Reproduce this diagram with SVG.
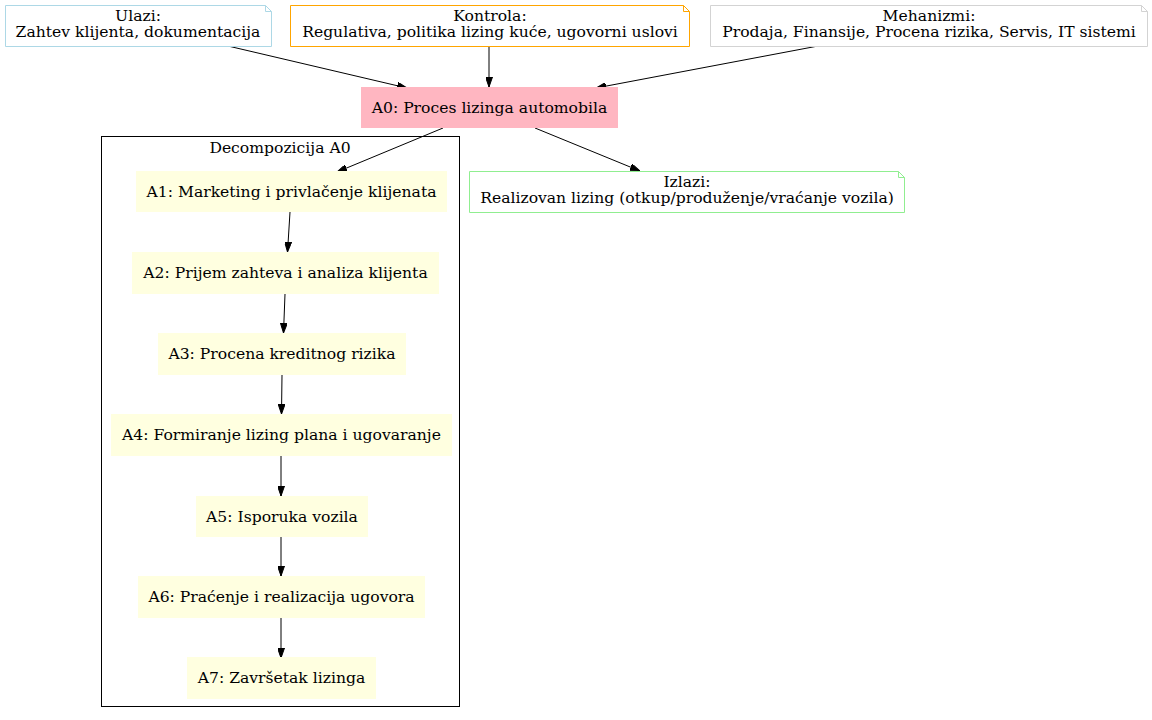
<svg xmlns="http://www.w3.org/2000/svg" width="1152" height="720" viewBox="0 0 1152 720">
<style>
text{font-family:"DejaVu Serif","Liberation Serif",serif;font-size:15.6px;fill:#000;text-anchor:middle}
.note{fill:#fff;stroke-width:1}
.fold{fill:none;stroke-width:1}
.act{fill:#ffffe0;stroke:#ffffe0}
.edge{stroke:#000;stroke-width:1;fill:none;marker-end:url(#ah)}
</style>
<defs>
<marker id="ah" markerUnits="userSpaceOnUse" markerWidth="10" markerHeight="7" refX="10" refY="3.5" orient="auto">
<path d="M0,0 L10,3.5 L0,7 z" fill="#000" stroke="#000"/>
</marker>
</defs>
<rect width="1152" height="720" fill="#fff"/>
<g id="cluster_A0">
<rect x="101.5" y="136.5" width="358" height="570" fill="none" stroke="#000"/>
<text x="280" y="153">Decompozicija A0</text>
</g>
<g id="connectors">
<line class="edge" x1="228" y1="46" x2="407" y2="88"/>
<line class="edge" x1="489" y1="46" x2="489" y2="87"/>
<line class="edge" x1="818" y1="46" x2="596" y2="88"/>
<line class="edge" x1="443" y1="128" x2="337" y2="172"/>
<line class="edge" x1="535" y1="128" x2="640" y2="171"/>
<line class="edge" x1="290" y1="212" x2="287.5" y2="252"/>
<line class="edge" x1="285" y1="294" x2="283.5" y2="333"/>
<line class="edge" x1="282" y1="375" x2="281.5" y2="414"/>
<line class="edge" x1="281" y1="456" x2="281" y2="496"/>
<line class="edge" x1="281" y1="537" x2="281" y2="576"/>
<line class="edge" x1="281" y1="617" x2="281" y2="658"/>
</g>
<g id="ulazi">
<path class="note" stroke="#add8e6" d="M5.5,5.5 H265.5 L271.5,11.5 V46.5 H5.5 Z"/>
<path class="fold" stroke="#add8e6" d="M265.5,5.5 V11.5 H271.5"/>
<text x="138" y="21">Ulazi:</text>
<text x="138" y="37">Zahtev klijenta, dokumentacija</text>
</g>
<g id="kontrola">
<path class="note" stroke="#ffa500" d="M290.5,5.5 H683.5 L689.5,11.5 V46.5 H290.5 Z"/>
<path class="fold" stroke="#ffa500" d="M683.5,5.5 V11.5 H689.5"/>
<text x="490" y="21">Kontrola:</text>
<text x="490" y="37">Regulativa, politika lizing kuće, ugovorni uslovi</text>
</g>
<g id="mehanizmi">
<path class="note" stroke="#d3d3d3" d="M710.5,5.5 H1141.5 L1147.5,11.5 V46.5 H710.5 Z"/>
<path class="fold" stroke="#d3d3d3" d="M1141.5,5.5 V11.5 H1147.5"/>
<text x="929" y="21">Mehanizmi:</text>
<text x="929" y="37">Prodaja, Finansije, Procena rizika, Servis, IT sistemi</text>
</g>
<g id="A0">
<rect x="361.5" y="87.5" width="256" height="40" fill="#ffb6c1" stroke="#ffb6c1"/>
<text x="489.5" y="112.5">A0: Proces lizinga automobila</text>
</g>
<g id="izlazi">
<path class="note" stroke="#90ee90" d="M469.5,171.5 H898.5 L904.5,177.5 V212.5 H469.5 Z"/>
<path class="fold" stroke="#90ee90" d="M898.5,171.5 V177.5 H904.5"/>
<text x="687" y="187">Izlazi:</text>
<text x="687" y="203">Realizovan lizing (otkup/produženje/vraćanje vozila)</text>
</g>
<g id="A1">
<rect class="act" x="136.5" y="171.5" width="310" height="40"/>
<text x="291.5" y="196.5">A1: Marketing i privlačenje klijenata</text>
</g>
<g id="A2">
<rect class="act" x="132.5" y="252.5" width="306" height="41"/>
<text x="285.5" y="278">A2: Prijem zahteva i analiza klijenta</text>
</g>
<g id="A3">
<rect class="act" x="158.5" y="333.5" width="247" height="41"/>
<text x="282" y="359">A3: Procena kreditnog rizika</text>
</g>
<g id="A4">
<rect class="act" x="111.5" y="414.5" width="340" height="41"/>
<text x="281.5" y="440">A4: Formiranje lizing plana i ugovaranje</text>
</g>
<g id="A5">
<rect class="act" x="196.5" y="496.5" width="171" height="40"/>
<text x="282" y="521.5">A5: Isporuka vozila</text>
</g>
<g id="A6">
<rect class="act" x="138.5" y="576.5" width="286" height="41"/>
<text x="281.5" y="602">A6: Praćenje i realizacija ugovora</text>
</g>
<g id="A7">
<rect class="act" x="187.5" y="657.5" width="188" height="41"/>
<text x="281.5" y="683">A7: Završetak lizinga</text>
</g>
</svg>
